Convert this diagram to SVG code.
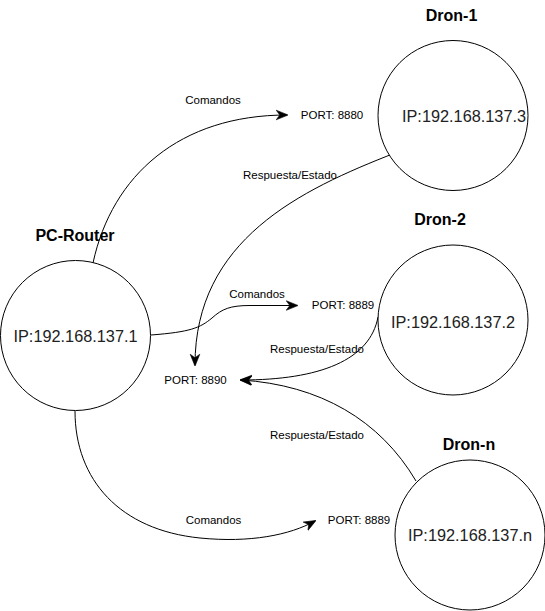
<svg xmlns="http://www.w3.org/2000/svg" width="545" height="611" viewBox="0 0 545 611">
<style>
.node{fill:#fff;stroke:#000;stroke-width:1}
.ip{font-family:"Liberation Sans",Arial,sans-serif;font-size:16.3px;fill:#222;text-anchor:middle;dominant-baseline:central}
.title{font-family:"Liberation Sans",Arial,sans-serif;font-size:16px;font-weight:bold;fill:#000;text-anchor:middle;dominant-baseline:central}
.lbl{font-family:"Liberation Sans",Arial,sans-serif;font-size:11.5px;fill:#000;text-anchor:middle;dominant-baseline:central}
.edge{fill:none;stroke:#000;stroke-width:1}
</style>
<defs>
<marker id="arr" markerUnits="userSpaceOnUse" markerWidth="12" markerHeight="12" viewBox="0 0 10 10" refX="9" refY="5" orient="auto">
<path d="M0,1 L10,5 L0,9 L3,5 z" fill="#000" stroke="#000" stroke-width="0.5"/>
</marker>
</defs>
<rect width="545" height="611" fill="#fff"/>
<g id="connectors">
<path class="edge" d="M93 263 C112 175, 180 115, 287 115" marker-end="url(#arr)"/>
<path class="edge" d="M395 153 C300 190, 195 240, 195 365" marker-end="url(#arr)"/>
<path class="edge" d="M151 335 C190 332, 200 328, 212 318 C222 309, 230 305.5, 250 305.5 L297 305.5" marker-end="url(#arr)"/>
<path class="edge" d="M378 317 C370 360, 320 380, 241 380" marker-end="url(#arr)"/>
<path class="edge" d="M416 481 C380 420, 320 385, 241 380" marker-end="url(#arr)"/>
<path class="edge" d="M75 411 C75 480, 120 530, 200 538 C250 543, 290 535, 315 521" marker-end="url(#arr)"/>
</g>
<g id="labels">
<text class="lbl" x="213" y="100">Comandos</text>
<text class="lbl" x="332" y="114.5">PORT: 8880</text>
<text class="lbl" x="290" y="175">Respuesta/Estado</text>
<text class="lbl" x="257" y="294">Comandos</text>
<text class="lbl" x="343" y="305">PORT: 8889</text>
<text class="lbl" x="317" y="349">Respuesta/Estado</text>
<text class="lbl" x="195.5" y="380">PORT: 8890</text>
<text class="lbl" x="317" y="435">Respuesta/Estado</text>
<text class="lbl" x="213.5" y="520">Comandos</text>
<text class="lbl" x="359" y="519.5">PORT: 8889</text>
</g>
<g id="pc-router">
<text class="title" x="75" y="235">PC-Router</text>
<circle class="node" cx="75.5" cy="335.5" r="75"/>
<text class="ip" x="75.5" y="336">IP:192.168.137.1</text>
</g>
<g id="dron-1">
<text class="title" x="451.5" y="15">Dron-1</text>
<circle class="node" cx="453" cy="115.5" r="75"/>
<text class="ip" x="464" y="116">IP:192.168.137.3</text>
</g>
<g id="dron-2">
<text class="title" x="440" y="219">Dron-2</text>
<circle class="node" cx="453" cy="320" r="75"/>
<text class="ip" x="453" y="321.5">IP:192.168.137.2</text>
</g>
<g id="dron-n">
<text class="title" x="469" y="444">Dron-n</text>
<circle class="node" cx="470" cy="535" r="75"/>
<text class="ip" x="470" y="535">IP:192.168.137.n</text>
</g>
</svg>
